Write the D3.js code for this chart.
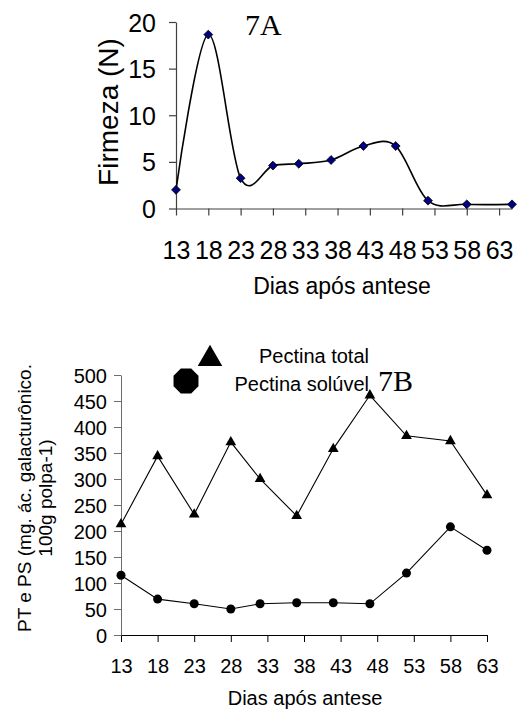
<!DOCTYPE html>
<html>
<head>
<meta charset="utf-8">
<script src="https://cdn.jsdelivr.net/npm/d3@7"></script>
<style>
  html, body { margin: 0; padding: 0; background: #fff; }
  svg { display: block; }
  text { font-family: Arial, "Liberation Sans", sans-serif; fill: #000; }
</style>
</head>
<body>
<svg id="chart" width="517" height="711"></svg>
<script>
// Firmness of the fruit (N) by days after anthesis
const firmDays = [13, 18, 23, 28, 32, 37, 42, 47, 52, 58, 65];
const firmeza  = [2.0, 18.65, 3.25, 4.6, 4.8, 5.2, 6.7, 6.7, 0.84, 0.45, 0.45];
const firmTicksY = [0, 5, 10, 15, 20];

// Total and soluble pectin (mg galacturonic acid per 100 g pulp)
const pectDays = [13, 18, 23, 28, 32, 37, 42, 47, 52, 58, 63];
const pectinaTotal   = [213, 344, 232, 371, 300, 229, 358, 461, 383, 373, 269];
const pectinaSoluvel = [115, 69, 60, 50, 60, 62, 62, 60, 119, 208, 163];
const pectTicksY = [0, 50, 100, 150, 200, 250, 300, 350, 400, 450, 500];

// Day ticks shared by both x axes
const dayTicks = [13, 18, 23, 28, 33, 38, 43, 48, 53, 58, 63];

const svg = d3.select("#chart");

/* ---------- 7A: firmness ---------- */
const xA = d3.scaleLinear().domain([13, 65]).range([176, 512]);
const yA = d3.scaleLinear().domain([0, 20]).range([208.5, 22]);
const gA = svg.append("g");

const axA_x = gA.append("g").attr("transform", `translate(0,${yA(0)})`)
  .call(d3.axisBottom(xA).tickValues(dayTicks).tickSize(7).tickSizeOuter(0));
axA_x.selectAll("text").attr("y", 50.5).attr("dy", 0)
  .style("font-size", "25px");
const axA_y = gA.append("g").attr("transform", `translate(${xA(13)},0)`)
  .call(d3.axisLeft(yA).tickValues(firmTicksY).tickSize(7).tickSizeOuter(0));
axA_y.selectAll("text").attr("x", -20).attr("dy", "0.36em")
  .style("font-size", "25px");
[axA_x, axA_y].forEach(a => {
  a.select(".domain").attr("stroke", "#404040").attr("stroke-width", 1.2);
  a.selectAll(".tick line").attr("stroke", "#404040").attr("stroke-width", 1.2);
  a.selectAll("text").style("font-family", "Arial, 'Liberation Sans', sans-serif").attr("fill", "#000");
});

const firmPts = firmDays.map((d, i) => [d, firmeza[i]]);
gA.append("path")
  .datum(firmPts)
  .attr("fill", "none")
  .attr("stroke", "#000")
  .attr("stroke-width", 1.6)
  .attr("d", d3.line().x(d => xA(d[0])).y(d => yA(d[1])).curve(d3.curveCardinal.tension(0)));

gA.selectAll("path.mk")
  .data(firmPts)
  .join("path")
  .attr("class", "mk")
  .attr("transform", d => `translate(${xA(d[0])},${yA(d[1])})`)
  .attr("d", d3.symbol(d3.symbolDiamond2, 50))
  .attr("fill", "#000080")
  .attr("stroke", "#000")
  .attr("stroke-width", 0.8);

gA.append("text")
  .attr("transform", "translate(118,112) rotate(-90)")
  .attr("text-anchor", "middle")
  .style("font-size", "28px")
  .text("Firmeza (N)");

gA.append("text")
  .attr("x", 342).attr("y", 294)
  .attr("text-anchor", "middle")
  .style("font-size", "23px")
  .text("Dias após antese");

gA.append("text")
  .attr("x", 245).attr("y", 35)
  .style("font-family", "'Liberation Serif', 'Times New Roman', serif")
  .style("font-size", "30px")
  .text("7A");

/* ---------- 7B: pectins ---------- */
const xB = d3.scaleLinear().domain([13, 63]).range([121, 487]);
const yB = d3.scaleLinear().domain([0, 500]).range([635, 375]);
const gB = svg.append("g");

const axB_x = gB.append("g").attr("transform", `translate(0,${yB(0)})`)
  .call(d3.axisBottom(xB).tickValues(dayTicks).tickSize(7).tickSizeOuter(0));
axB_x.selectAll("text").attr("y", 38).attr("dy", 0)
  .style("font-size", "20px");
axB_x.select(".domain").attr("stroke", "#000");
axB_x.selectAll(".tick line").attr("stroke", "#000");

const axB_y = gB.append("g").attr("transform", `translate(${xB(13)},0)`)
  .call(d3.axisLeft(yB).tickValues(pectTicksY).tickSize(7).tickSizeOuter(0));
axB_y.selectAll("text").attr("x", -14).attr("dy", "0.36em")
  .style("font-size", "20px");
axB_y.select(".domain").attr("stroke", "#6e6e6e");
axB_y.selectAll(".tick line").attr("stroke", "#6e6e6e");
[axB_x, axB_y].forEach(a => a.selectAll("text")
  .style("font-family", "Arial, 'Liberation Sans', sans-serif").attr("fill", "#000"));

const line = d3.line().x(d => xB(d[0])).y(d => yB(d[1]));
const totPts = pectDays.map((d, i) => [d, pectinaTotal[i]]);
const solPts = pectDays.map((d, i) => [d, pectinaSoluvel[i]]);

gB.append("path").datum(totPts)
  .attr("fill", "none").attr("stroke", "#000").attr("stroke-width", 1.1)
  .attr("d", line);
gB.append("path").datum(solPts)
  .attr("fill", "none").attr("stroke", "#000").attr("stroke-width", 1.1)
  .attr("d", line);

gB.selectAll("path.tri")
  .data(totPts)
  .join("path")
  .attr("class", "tri")
  .attr("transform", d => `translate(${xB(d[0])},${yB(d[1])})`)
  .attr("d", d3.symbol(d3.symbolTriangle, 50))
  .attr("fill", "#000");

gB.selectAll("circle.dot")
  .data(solPts)
  .join("circle")
  .attr("class", "dot")
  .attr("cx", d => xB(d[0]))
  .attr("cy", d => yB(d[1]))
  .attr("r", 4.5)
  .attr("fill", "#000");

// legend
const octagon = d3.range(8).map(i => {
  const a = Math.PI / 8 + i * Math.PI / 4;
  return [186 + 13.5 * Math.cos(a), 381 + 13.5 * Math.sin(a)];
});
gB.append("polygon")
  .attr("points", octagon.map(p => p.join(",")).join(" "))
  .attr("fill", "#000");
gB.append("path")
  .attr("transform", "translate(210,359)")
  .attr("d", d3.symbol(d3.symbolTriangle, 260))
  .attr("fill", "#000");

gB.append("text")
  .attr("x", 369).attr("y", 363)
  .attr("text-anchor", "end")
  .style("font-size", "20px")
  .text("Pectina total");
gB.append("text")
  .attr("x", 369).attr("y", 391)
  .attr("text-anchor", "end")
  .style("font-size", "20px")
  .text("Pectina solúvel");

gB.append("text")
  .attr("x", 378).attr("y", 391)
  .style("font-family", "'Liberation Serif', 'Times New Roman', serif")
  .style("font-size", "30px")
  .text("7B");

const yTitle = gB.append("text")
  .attr("transform", "translate(31,498) rotate(-90)")
  .attr("text-anchor", "middle")
  .style("font-size", "19px");
yTitle.append("tspan").attr("x", 0).attr("dy", 0).text("PT e PS (mg. ác. galacturônico.");
yTitle.append("tspan").attr("x", 0).attr("dy", "1.12em").text("100g polpa-1)");

gB.append("text")
  .attr("x", 305).attr("y", 705)
  .attr("text-anchor", "middle")
  .style("font-size", "20px")
  .text("Dias após antese");
</script>
</body>
</html>
